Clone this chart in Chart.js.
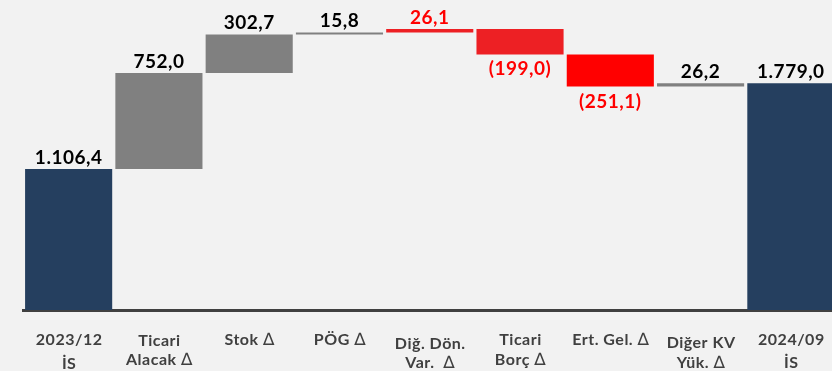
<!DOCTYPE html>
<html>
<head>
<meta charset="utf-8">
<script src="https://cdn.jsdelivr.net/npm/chart.js@4/dist/chart.umd.min.js"></script>
<style>
  html, body { margin: 0; padding: 0; background: #f2f2f2; overflow: hidden; }
  #wrap { width: 836px; height: 371px; }
</style>
</head>
<body>
<div id="wrap"><canvas id="bridge" width="836" height="371"></canvas></div>
<script>
// İşletme sermayesi köprüsü (2023/12 -> 2024/09)
var categories = [
  ['2023/12', 'İS'],
  ['Ticari', 'Alacak ∆'],
  ['Stok ∆'],
  ['PÖG ∆'],
  ['Diğ. Dön.', 'Var.  ∆'],
  ['Ticari', 'Borç ∆'],
  ['Ert. Gel. ∆'],
  ['Diğer KV', 'Yük. ∆'],
  ['2024/09', 'İS']
];
var startValue = 1106.4;
var changes = [752.0, 302.7, 15.8, 26.1, -199.0, -251.1, 26.2];
var endValue = 1779.0;

var NAVY = '#253f5f', GREY = '#808080', RED = '#ed2024', RED2 = '#ff0000', LABEL_RED = '#ff0000';
var barColors = [NAVY, GREY, GREY, GREY, RED, RED, RED2, GREY, NAVY];

// eksen yazıları: ilk satır taban çizgisi kayması ve satır aralığı (px)
var labelShift = [0, 1, 0, 0, 4, 0, 0, 3, 0];
var labelGap = [24, 19, 20, 20, 19, 20, 20, 20, 23];

// floating bars: [alt, üst] aralıkları
var ranges = [[0, startValue]];
var labels = [startValue];
var running = startValue;
changes.forEach(function (c) {
  ranges.push([running, running + c]);
  labels.push(c);
  running += c;
});
ranges.push([0, endValue]);
labels.push(endValue);

function fmt(v) {
  var neg = v < 0;
  var parts = Math.abs(v).toFixed(1).split('.');
  var whole = parts[0].replace(/\B(?=(\d{3})+(?!\d))/g, '.');
  var s = whole + ',' + parts[1];
  return neg ? '(' + s + ')' : s;
}

var valueLabels = {
  id: 'valueLabels',
  afterDatasetsDraw: function (chart) {
    var ctx = chart.ctx;
    var meta = chart.getDatasetMeta(0);
    var yScale = chart.scales.y;
    ctx.save();
    ctx.font = 'bold 19px Lato';
    ctx.letterSpacing = '0.5px';
    ctx.textAlign = 'center';
    ctx.textBaseline = 'alphabetic';
    meta.data.forEach(function (bar, i) {
      var r = ranges[i];
      var v = labels[i];
      var top = yScale.getPixelForValue(Math.max(r[0], r[1]));
      var bottom = yScale.getPixelForValue(Math.min(r[0], r[1]));
      var isRed = barColors[i] === RED || barColors[i] === RED2;
      ctx.fillStyle = isRed ? LABEL_RED : '#000000';
      if (v < 0) {
        ctx.fillText(fmt(v), bar.x, bottom + 21);
      } else {
        ctx.fillText(fmt(v), bar.x, top - 5);
      }
    });
    ctx.restore();
  }
};

var BOLD_FONT = 'bold 16px Lato';
var DELTA_FONT = '17px "DejaVu Sans"';

// tek satır: kalın metin + ince delta işareti, ortalanmış
function drawLine(ctx, text, cx, y) {
  var parts = text.split('∆');
  var pieces = [];
  parts.forEach(function (p, k) {
    if (p) pieces.push({ t: p, f: BOLD_FONT });
    if (k < parts.length - 1) pieces.push({ t: '∆', f: DELTA_FONT });
  });
  var total = 0;
  pieces.forEach(function (pc) {
    ctx.font = pc.f;
    pc.w = ctx.measureText(pc.t).width;
    total += pc.w;
  });
  var x = cx - total / 2;
  pieces.forEach(function (pc) {
    ctx.font = pc.f;
    ctx.fillText(pc.t, x, y);
    x += pc.w;
  });
}

// kategori yazıları eksen altına elle çiziliyor (satır kaymaları farklı)
var axisLabels = {
  id: 'axisLabels',
  afterDraw: function (chart) {
    var ctx = chart.ctx;
    var xScale = chart.scales.x;
    ctx.save();
    ctx.letterSpacing = '0.5px';
    ctx.fillStyle = '#404040';
    ctx.textAlign = 'left';
    ctx.textBaseline = 'alphabetic';
    categories.forEach(function (lines, i) {
      var x = xScale.getPixelForValue(i) + 0.5;
      var y = xScale.top + 35 + labelShift[i];
      lines.forEach(function (line, j) {
        drawLine(ctx, line, x, y + j * labelGap[i]);
      });
    });
    ctx.restore();
  }
};

new Chart(document.getElementById('bridge'), {
  type: 'bar',
  data: {
    labels: categories.map(function (l) { return l.join(' '); }),
    datasets: [{
      data: ranges,
      backgroundColor: barColors,
      borderWidth: 0,
      borderSkipped: false,
      barPercentage: 0.965,
      categoryPercentage: 1.0
    }]
  },
  options: {
    responsive: false,
    animation: false,
    layout: { padding: { top: 4, left: 23.5, right: 0, bottom: 0 } },
    plugins: {
      legend: { display: false },
      tooltip: { enabled: false }
    },
    scales: {
      x: {
        grid: { display: false, drawTicks: false },
        border: { color: '#404040', width: 3 },
        ticks: { display: false },
        afterFit: function (scale) { scale.height = 61; }
      },
      y: {
        display: false,
        min: 0,
        max: 2400
      }
    }
  },
  plugins: [valueLabels, axisLabels]
});
</script>
</body>
</html>
